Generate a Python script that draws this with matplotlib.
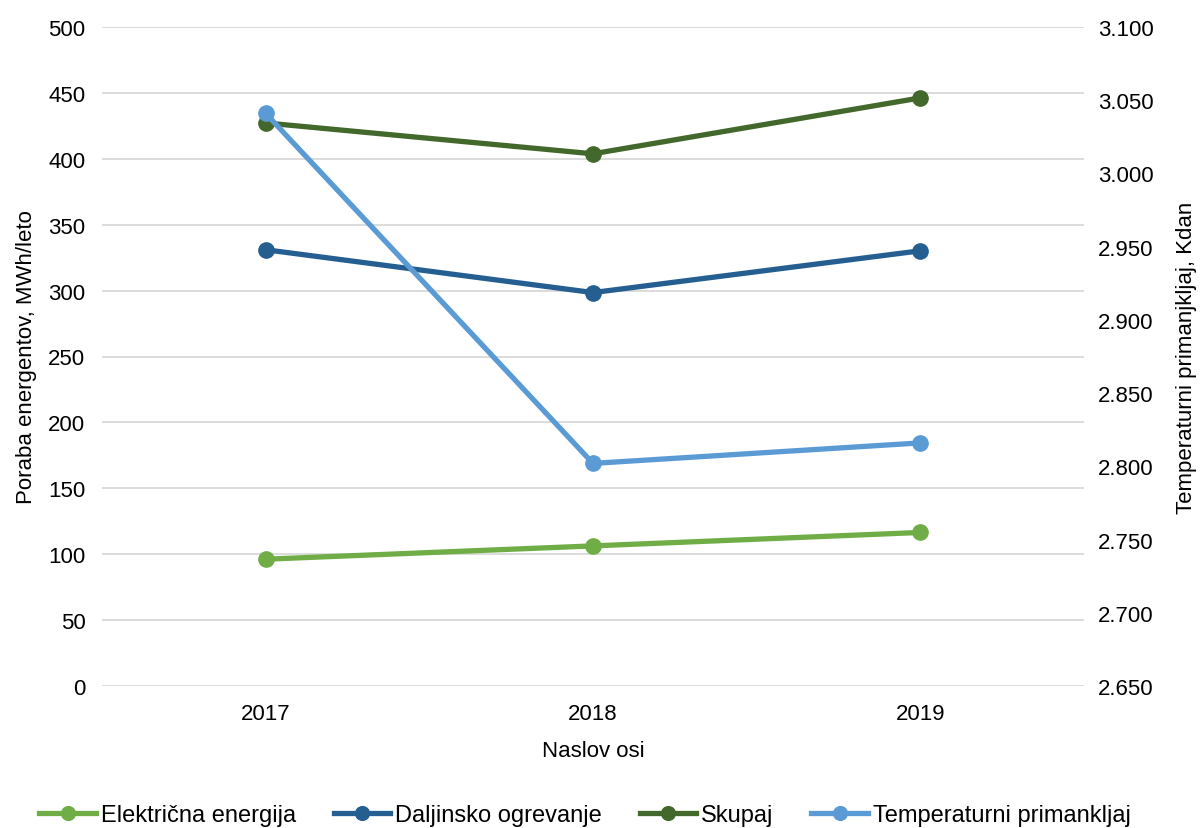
import matplotlib
matplotlib.use("Agg")
import matplotlib.pyplot as plt
from matplotlib.ticker import FuncFormatter, MultipleLocator

plt.rcParams['font.family'] = ['Liberation Sans', 'DejaVu Sans']

years = ["2017", "2018", "2019"]
elektricna = [96.2, 106.3, 116.5]
daljinsko = [331.0, 298.5, 330.2]
skupaj = [427.2, 403.8, 446.2]
temperatura = [3.041, 2.802, 2.816]

c_el = "#70AD47"
c_dal = "#255E91"
c_sk = "#43682B"
c_temp = "#5B9BD5"

fs = 16

fig = plt.figure(figsize=(12, 8.29), dpi=100)
ax = fig.add_axes([102 / 1200, 1 - 687 / 829, (1084 - 102) / 1200, (687 - 28) / 829])
ax2 = ax.twinx()

x = list(range(len(years)))
lw = 3.8
ms = 11
h1, = ax.plot(x, elektricna, color=c_el, lw=lw, marker="o", ms=ms, label="Električna energija")
h2, = ax.plot(x, daljinsko, color=c_dal, lw=lw, marker="o", ms=ms, label="Daljinsko ogrevanje")
h3, = ax.plot(x, skupaj, color=c_sk, lw=lw, marker="o", ms=ms, label="Skupaj")
h4, = ax2.plot(x, temperatura, color=c_temp, lw=lw, marker="o", ms=ms, label="Temperaturni primankljaj")

ax.set_xlim(-0.5, 2.5)
ax.set_ylim(0, 500)
ax.yaxis.set_major_locator(MultipleLocator(50))
ax2.set_ylim(2.65, 3.10)
ax2.yaxis.set_major_locator(MultipleLocator(0.05))
ax2.yaxis.set_major_formatter(FuncFormatter(lambda v, p: f"{v:.3f}"))

ax.set_xticks(x)
ax.set_xticklabels(years)

ax.grid(axis="y", color="#D9D9D9", lw=1.3)
ax.set_axisbelow(True)
for a in (ax, ax2):
    for s in a.spines.values():
        s.set_visible(False)
    a.tick_params(length=0, labelsize=fs, colors="#000000")
ax.tick_params(axis="y", pad=12)
ax.tick_params(axis="x", pad=12)
ax2.tick_params(axis="y", pad=10)

ax.set_ylabel("Poraba energentov, MWh/leto", fontsize=fs, labelpad=8)
ax2.set_ylabel("Temperaturni primanjkljaj, Kdan", fontsize=fs, rotation=90, labelpad=16)
ax.set_xlabel("Naslov osi", fontsize=fs, labelpad=12)

fig.legend(handles=[h1, h2, h3, h4], loc="center", bbox_to_anchor=(0.4875, 1 - 816 / 829),
           ncol=4, frameon=False, fontsize=17, handlelength=2.4, handletextpad=0.2,
           columnspacing=1.6, markerscale=0.9)

fig.savefig("out.png", dpi=100)
